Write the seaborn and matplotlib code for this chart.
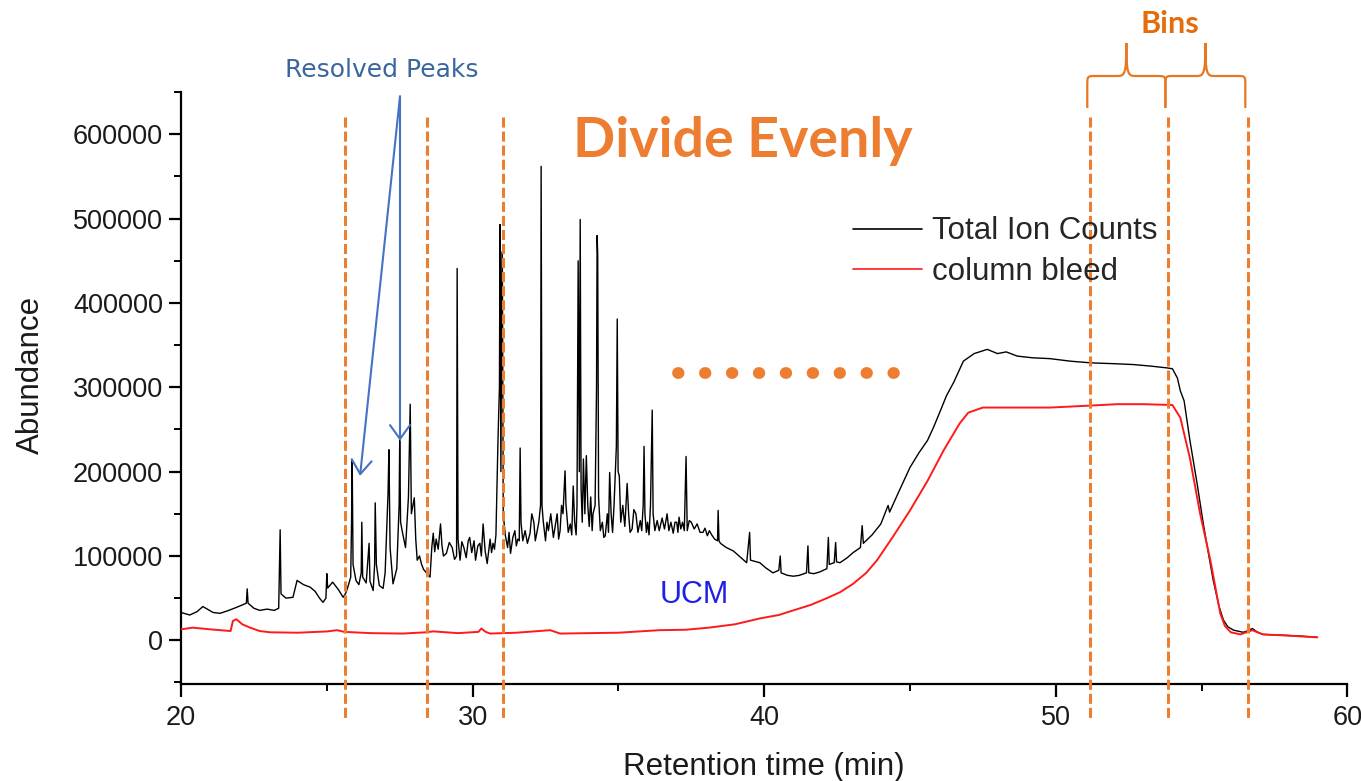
import numpy as np
import pandas as pd
import matplotlib
matplotlib.use("Agg")
import matplotlib.pyplot as plt
import matplotlib.transforms as mtransforms
from matplotlib.path import Path
from matplotlib.patches import PathPatch
from matplotlib.ticker import MultipleLocator, FuncFormatter
import seaborn as sns

# ---------------- data ----------------
# Total ion counts, early part (20 - 28 min)
tic_time_a = [20.0, 20.3, 20.55, 20.75, 20.9, 21.1, 21.34, 21.6, 21.9, 22.1, 22.24, 22.27, 22.30, 22.5,
              22.7, 22.95, 23.2, 23.35, 23.40, 23.43, 23.6, 23.84, 23.98, 24.2, 24.43, 24.6, 24.75,
              24.87, 24.97, 25.0, 25.03, 25.2, 25.4, 25.56, 25.65, 25.72, 25.82, 25.85, 25.87, 25.90,
              26.0, 26.1, 26.18, 26.2, 26.23, 26.35, 26.45, 26.48, 26.59, 26.64, 26.66, 26.7, 26.8,
              26.93, 27.0, 27.1, 27.13, 27.17, 27.27, 27.4, 27.48, 27.5, 27.53, 27.6, 27.7, 27.8,
              27.86, 27.9, 28.0]
tic_abund_a = [33000, 30000, 34000, 40000, 37000, 33000, 32000, 35000, 39000, 42000, 44000, 61000, 44000, 38000,
               35500, 37000, 35500, 38000, 131000, 55000, 50000, 51000, 71000, 66000, 63000, 58000, 50000,
               45000, 50000, 79000, 62000, 69000, 60000, 51000, 56000, 63000, 75000, 145000, 213000, 90000,
               71000, 66000, 80000, 140000, 75000, 68000, 115000, 70000, 59000, 90000, 163000, 90000, 65000,
               61500, 80000, 175000, 226000, 110000, 67000, 85000, 160000, 237000, 140000, 127000, 110000, 170000,
               280000, 150000, 169000]

# Total ion counts, resolved-peak region (28 - 38.5 min)
tic_time_b = [28.05, 28.1, 28.18, 28.25, 28.32, 28.44, 28.54, 28.6, 28.65, 28.7,
              28.75, 28.82, 28.9, 28.95, 29.0, 29.1, 29.2, 29.3, 29.38, 29.45,
              29.47, 29.5, 29.57, 29.63, 29.7, 29.78, 29.85, 29.9, 29.97, 30.05,
              30.1, 30.18, 30.25, 30.3, 30.36, 30.43, 30.5, 30.6, 30.65, 30.7,
              30.75, 30.8, 30.87, 30.92, 30.94, 30.97, 31.0, 31.02, 31.05, 31.12,
              31.2, 31.25, 31.3, 31.38, 31.45, 31.5, 31.55, 31.6, 31.63, 31.66,
              31.72, 31.8, 31.88, 31.97, 32.03, 32.1, 32.15, 32.2, 32.27, 32.33,
              32.35, 32.38, 32.42, 32.5, 32.55, 32.6, 32.68, 32.77, 32.83, 32.9,
              32.95, 33.0, 33.05, 33.1, 33.17, 33.2, 33.28, 33.35, 33.4, 33.45,
              33.5, 33.55, 33.58, 33.62, 33.66, 33.69, 33.72, 33.76, 33.8, 33.85,
              33.9, 33.95, 34.0, 34.05, 34.1, 34.13, 34.2, 34.25, 34.27, 34.29,
              34.32, 34.38, 34.45, 34.5, 34.55, 34.62, 34.66, 34.7, 34.75, 34.8,
              34.85, 34.93, 34.96, 34.99, 35.03, 35.08, 35.15, 35.22, 35.3, 35.35,
              35.4, 35.47, 35.53, 35.6, 35.67, 35.75, 35.8, 35.85, 35.88, 35.91,
              35.96, 36.0, 36.05, 36.1, 36.16, 36.19, 36.25, 36.33, 36.4, 36.5,
              36.58, 36.67, 36.73, 36.8, 36.88, 36.94, 37.0, 37.04, 37.08, 37.14,
              37.2, 37.26, 37.32, 37.36, 37.43, 37.5, 37.6, 37.7, 37.8, 37.9,
              37.97, 38.05, 38.12, 38.2, 38.3, 38.4, 38.42, 38.45]
tic_abund_b = [120000, 95000, 100000, 90000, 84000, 79000, 75000, 110000, 127000, 105000,
               120000, 108000, 138000, 112000, 100000, 103000, 116000, 110000, 96000, 100000,
               441000, 120000, 95000, 117000, 110000, 98000, 118000, 122000, 104000, 118000,
               95000, 112000, 115000, 100000, 138000, 106000, 91000, 120000, 104000, 115000,
               108000, 125000, 237000, 300000, 493000, 200000, 404000, 461000, 150000, 125000,
               110000, 128000, 103000, 122000, 130000, 112000, 120000, 118000, 228000, 140000,
               118000, 130000, 115000, 127000, 150000, 140000, 118000, 127000, 140000, 160000,
               562000, 160000, 142000, 118000, 140000, 130000, 150000, 122000, 135000, 150000,
               120000, 130000, 160000, 150000, 201000, 162000, 128000, 138000, 125000, 183000,
               140000, 125000, 160000, 450000, 200000, 499000, 180000, 140000, 215000, 150000,
               219000, 160000, 135000, 170000, 130000, 150000, 160000, 300000, 480000, 458000,
               170000, 130000, 140000, 122000, 124000, 150000, 128000, 199000, 150000, 128000,
               160000, 230000, 381000, 200000, 195000, 140000, 160000, 135000, 186000, 150000,
               128000, 132000, 155000, 150000, 128000, 142000, 130000, 160000, 230000, 150000,
               128000, 140000, 125000, 160000, 273000, 150000, 130000, 142000, 130000, 145000,
               132000, 150000, 130000, 140000, 127000, 140000, 140000, 128000, 146000, 132000,
               140000, 130000, 218000, 130000, 142000, 140000, 132000, 138000, 128000, 128000,
               133000, 124000, 130000, 125000, 120000, 118000, 154000, 118000]

# Total ion counts, late part (38.5 - 59 min)
tic_time_c = [38.5, 38.7, 38.94, 39.2, 39.4, 39.5, 39.53, 39.85, 40.05, 40.3, 40.5, 40.55, 40.58,
              40.8, 41.0, 41.2, 41.45, 41.5, 41.53, 41.7, 41.9, 42.15, 42.2, 42.23, 42.4, 42.45,
              42.48, 42.6, 42.85, 43.05, 43.3, 43.36, 43.4, 43.7, 44.0, 44.25, 44.3, 44.6, 45.0,
              45.3, 45.6, 45.8, 46.04, 46.25, 46.5, 46.83, 47.2, 47.65, 48.0, 48.3, 48.68, 49.2,
              49.8, 50.5, 51.2, 52.0, 52.66, 53.3, 53.82, 54.0, 54.17, 54.27, 54.4, 54.6, 54.85,
              55.06, 55.25, 55.4, 55.6, 55.75, 55.9, 56.1, 56.43, 56.6, 56.74, 56.9, 57.1, 57.8,
              58.4, 58.97]
tic_abund_c = [115000, 110000, 106000, 98000, 92000, 128000, 95000, 92000, 86000, 80000, 83000, 100000, 80000,
               77000, 76000, 77000, 80000, 112000, 80000, 79000, 81000, 85000, 122000, 90000, 92000, 116000,
               93000, 92000, 98000, 104000, 110000, 136000, 115000, 125000, 138000, 160000, 152000, 175000, 205000,
               222000, 237000, 252000, 272000, 290000, 306000, 331000, 340000, 345000, 340000, 342000, 337000, 335000,
               334000, 331000, 329000, 328000, 327000, 325000, 323000, 322000, 311000, 296000, 284000, 237000, 185000,
               138000, 100000, 71000, 40000, 24000, 16000, 12000, 9500, 11500, 14000, 10000, 7000, 6000,
               5000, 3500]

# Column bleed
bleed_time = [20.0, 20.4, 21.0, 21.7, 21.78, 21.9, 22.1, 22.37, 22.7, 23.05, 24.0, 25.0, 25.35, 25.6,
              26.5, 27.6, 28.4, 28.65, 29.5, 30.2, 30.3, 30.45, 30.6, 31.5, 32.66, 33.0, 34.0, 35.0,
              36.4, 37.3, 38.1, 39.0, 39.86, 40.5, 41.0, 41.6, 42.15, 42.6, 43.05, 43.5, 43.87, 44.4,
              45.0, 45.6, 46.15, 46.7, 47.0, 47.5, 48.5, 49.8, 51.0, 52.1, 53.0, 54.0, 54.27, 54.6,
              54.95, 55.3, 55.64, 55.8, 56.0, 56.33, 56.74, 57.1, 58.0, 58.97]
bleed_abund = [13000, 15000, 13000, 11000, 23000, 25000, 19000, 15000, 11000, 9500, 9000, 10500, 12000, 10000,
               8500, 8000, 9500, 10600, 8500, 10000, 14000, 10000, 8000, 9000, 12000, 8000, 8500, 9000,
               12000, 12500, 15000, 19000, 26000, 30000, 35500, 42000, 50000, 57000, 67000, 80000, 95000, 122000,
               154000, 189000, 225000, 257000, 270000, 276000, 276000, 276000, 278000, 280000, 280000, 279000, 264000, 216000,
               150000, 95000, 32000, 17000, 9500, 7000, 12000, 7000, 5500, 3500]

series_labels = ["Total Ion Counts", "column bleed"]
peak_edges = [25.63, 28.44, 31.05]       # "Divide Evenly" window lines
bin_edges = [51.18, 53.86, 56.6]         # "Bins" lines
resolved_peak_times = [26.14, 27.51]
resolved_peak_tips = [195000, 236600]
x_ticks = [20, 30, 40, 50, 60]
y_ticks = [0, 100000, 200000, 300000, 400000, 500000, 600000]

# ---------------- styling ----------------
sns.set_theme(style="ticks")
plt.rcParams["font.family"] = ["Liberation Sans", "DejaVu Sans"]

ORANGE = "#ED7D31"
ORANGE_D = "#E46C0A"
BLUE_A = "#4472C4"

fig = plt.figure(figsize=(13.61, 7.81), dpi=100)
ax = fig.add_axes([0.133, 0.124, 0.857, 0.758])

df_tic = pd.DataFrame({"time": tic_time_a + tic_time_b + tic_time_c,
                       "abund": tic_abund_a + tic_abund_b + tic_abund_c})
df_bleed = pd.DataFrame({"time": bleed_time, "abund": bleed_abund})

sns.lineplot(data=df_tic, x="time", y="abund", ax=ax, color="black", lw=1.0,
             sort=False, estimator=None, label=series_labels[0], zorder=3)
sns.lineplot(data=df_bleed, x="time", y="abund", ax=ax, color="#ff1a1a", lw=1.4,
             sort=False, estimator=None, label=series_labels[1], zorder=4)

ax.set_xlim(20, 60)
ax.set_ylim(-52000, 650000)

for s in ["top", "right"]:
    ax.spines[s].set_visible(False)
for s in ["left", "bottom"]:
    ax.spines[s].set_linewidth(1.6)
    ax.spines[s].set_color("black")

ax.set_xticks(x_ticks)
ax.set_yticks(y_ticks)
ax.xaxis.set_minor_locator(MultipleLocator(5))
ax.yaxis.set_minor_locator(MultipleLocator(50000))
ax.yaxis.set_major_formatter(FuncFormatter(lambda v, p: f"{int(v)}"))
ax.tick_params(axis="both", which="major", direction="out", length=9, width=1.6,
               labelsize=19.5, colors="black", labelcolor="#1a1a1a")
ax.tick_params(axis="both", which="minor", direction="out", length=5, width=1.4, colors="black")
ax.tick_params(axis="y", which="major", pad=4)
ax.tick_params(axis="x", which="major", pad=6)

ax.set_xlabel("Retention time (min)", fontsize=22.5, color="#1a1a1a", labelpad=15)
ax.set_ylabel("Abundance", fontsize=22.5, color="#1a1a1a")
ax.yaxis.set_label_coords(-0.116, 0.522)

# dashed orange window lines (extend beyond axes bottom)
for xe in peak_edges + bin_edges:
    ax.plot([xe, xe], [621000, -95000], color=ORANGE, lw=2.2, dashes=(3.3, 1.3),
            clip_on=False, zorder=5)

# dotted "..." line
ax.plot([37.05, 44.45], [317000, 317000], color=ORANGE, lw=8.5, dashes=(0.05, 2.23),
        solid_capstyle="round", dash_capstyle="round", zorder=5)

# texts
ax.text(39.25, 591600, "Divide Evenly", color=ORANGE, fontsize=40, fontweight="bold",
        family=["Lato", "DejaVu Sans"], ha="center", va="center")
ax.text(37.6, 53200, "UCM", color="#1f1fe8", fontsize=22, ha="center", va="center")
ax.text(26.9, 676700, "Resolved Peaks", color="#3A66A0", fontsize=18,
        family=["DejaVu Sans"], ha="center", va="center", clip_on=False)

# arrows to resolved peaks
for t, tip in zip(resolved_peak_times, resolved_peak_tips):
    ax.annotate("", xy=(t, tip), xytext=(27.51, 645000), textcoords="data",
                arrowprops=dict(arrowstyle="->,head_length=0.5,head_width=0.36",
                                color=BLUE_A, lw=1.5, mutation_scale=20, shrinkA=0, shrinkB=0),
                annotation_clip=False)

# curly braces over the bins
trans = mtransforms.blended_transform_factory(ax.transData, fig.transFigure)
yb, yh, yt = 0.8617, 0.9027, 0.945
for x0, x1 in zip(bin_edges[:-1], bin_edges[1:]):
    x0 -= 0.1
    x1 -= 0.1
    xm = (x0 + x1) / 2
    dx = 0.3
    dy = 0.012
    verts = [(x0, yb), (x0, yh - dy),
             (x0, yh), (x0, yh), (x0 + dx, yh),
             (xm - dx, yh),
             (xm - 0.05, yh), (xm, yh + 0.003), (xm, yt),
             (xm, yh + 0.003), (xm + 0.05, yh), (xm + dx, yh),
             (x1 - dx, yh),
             (x1, yh), (x1, yh), (x1, yh - dy),
             (x1, yb)]
    codes = [Path.MOVETO, Path.LINETO,
             Path.CURVE4, Path.CURVE4, Path.CURVE4,
             Path.LINETO,
             Path.CURVE4, Path.CURVE4, Path.CURVE4,
             Path.CURVE4, Path.CURVE4, Path.CURVE4,
             Path.LINETO,
             Path.CURVE4, Path.CURVE4, Path.CURVE4,
             Path.LINETO]
    patch = PathPatch(Path(verts, codes), transform=trans, fill=False,
                      edgecolor="#E87722", lw=1.6, clip_on=False)
    ax.add_patch(patch)

fig.text(53.92, 0.969, "Bins", transform=trans, color=ORANGE_D, fontsize=22,
         fontweight="bold", family=["Lato", "DejaVu Sans"], ha="center", va="center")

# legend
leg = ax.legend(loc="upper left", bbox_to_anchor=(0.576, 0.79), frameon=False,
                fontsize=22.5, handlelength=2.2, handletextpad=0.33, labelspacing=0.33,
                borderpad=0, borderaxespad=0)
for h in leg.get_lines():
    h.set_linewidth(1.2)

fig.savefig("out.png", dpi=100)
